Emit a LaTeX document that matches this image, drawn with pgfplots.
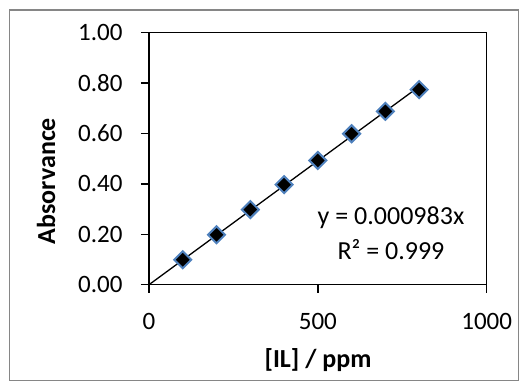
\documentclass[border=0pt]{standalone}
\usepackage{pgfplots}
\pgfplotsset{compat=1.18}
\usepackage{fontspec}
\setmainfont{Carlito}
\definecolor{mkblue}{RGB}{79,129,189}
\definecolor{frame}{RGB}{134,134,134}
\begin{document}
\begin{tikzpicture}[x=1pt,y=1pt]
\useasboundingbox (0,0) rectangle (520,383);
\draw[frame, line width=1.3pt] (9.5,2.5) rectangle (518.5,373);
\begin{axis}[
  at={(149pt,98.3pt)}, anchor=south west,
  width=337.7pt, height=252pt, scale only axis,
  xmin=0, xmax=1000, ymin=0, ymax=1,
  xtick={0,500,1000}, ytick={0,0.2,0.4,0.6,0.8,1.0},
  xtick pos=bottom, ytick pos=left,
  tick align=outside, major tick length=8pt,
  axis line style={line width=1.3pt},
  tick style={line width=1.3pt, black},
  font=\fontsize{25}{29}\selectfont,
  /pgf/number format/assume math mode=true,
  /pgf/number format/1000 sep={},
  yticklabel style={xshift=-15pt, /pgf/number format/fixed, /pgf/number format/precision=2, /pgf/number format/fixed zerofill},
  xticklabel style={yshift=-17pt},
  clip=false,
]
\addplot[black, line width=1.3pt, no marks] coordinates {(0,0) (800,0.7864)};
\addplot[only marks, mark=square*, mark size=6pt,
  mark options={rotate=45, fill=black, draw=mkblue, line width=2pt}]
  coordinates {(100,0.099) (200,0.198) (300,0.298) (400,0.397) (500,0.493) (600,0.599) (700,0.688) (800,0.774)};
\end{axis}
\node[font=\fontsize{26}{30}\selectfont\bfseries, rotate=90] at (46,202) {Absorvance};
\node[font=\fontsize{26}{30}\selectfont\bfseries] at (318,23) {[IL] / ppm};
\node[font=\fontsize{26}{30}\selectfont] at (391,165) {y = 0.000983x};
\node[font=\fontsize{26}{30}\selectfont] at (391,133) {R² = 0.999};
\end{tikzpicture}
\end{document}
